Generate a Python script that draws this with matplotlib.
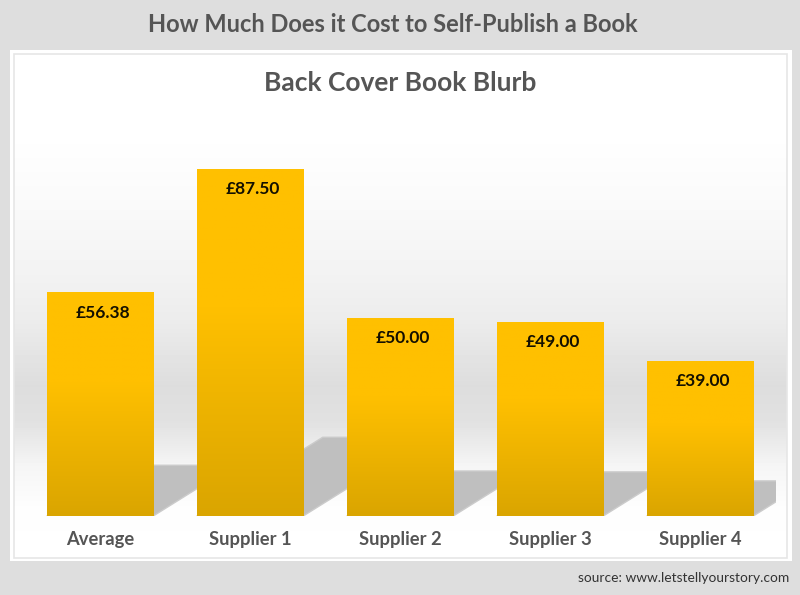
import numpy as np
import matplotlib
matplotlib.use("Agg")
import matplotlib.pyplot as plt
from matplotlib.patches import Rectangle, Polygon
from matplotlib.colors import LinearSegmentedColormap

categories = ["Average", "Supplier 1", "Supplier 2", "Supplier 3", "Supplier 4"]
values = [56.38, 87.50, 50.00, 49.00, 39.00]
value_labels = ["£56.38", "£87.50", "£50.00", "£49.00", "£39.00"]
main_title = "How Much Does it Cost to Self-Publish a Book"
sub_title = "Back Cover Book Blurb"
source = "source: www.letstellyourstory.com"

W, H = 800, 595
BG, TXT = "#dedede", "#555555"
plt.rcParams["font.family"] = ["Lato", "DejaVu Sans"]
fig = plt.figure(figsize=(W / 100, H / 100), dpi=100, facecolor=BG)

# page furniture in pixel coordinates
bg = fig.add_axes([0, 0, 1, 1], zorder=0)
bg.set_xlim(0, W); bg.set_ylim(H, 0); bg.axis("off")
bg.add_patch(Rectangle((10, 50), 782, 511, fc="white", ec="none"))
stops_y = np.array([54, 130, 200, 260, 320, 385, 420, 450, 465, 505, 556])
stops_v = np.array([255, 255, 250, 244, 236, 221, 225, 238, 245, 253, 255]) / 255
ys = np.arange(54, 557)
grad = np.interp(ys, stops_y, stops_v)[:, None]
bg.imshow(grad, extent=(14, 787, 557, 54), cmap="gray", vmin=0, vmax=1, aspect="auto", zorder=1)
bg.set_xlim(0, W); bg.set_ylim(H, 0)
bg.add_patch(Rectangle((13.5, 53.5), 773, 504, fc="none", ec="#e6e6e6", lw=1.2, zorder=2))

# plot axes: x categories every 150 px, y 3.966 px per unit
left, right, top, bottom = 26, 776, 60, 516
ppu = 3.966
ax = fig.add_axes([left / W, 1 - bottom / H, (right - left) / W, (bottom - top) / H], zorder=1)
ax.patch.set_alpha(0)
ax.set_xlim(-0.5, 4.5)
ax.set_ylim(0, (bottom - top) / ppu)
for s in ax.spines.values():
    s.set_visible(False)
ax.set_yticks([])
x = np.arange(len(values)) - 1 / 150
bw = 106.5 / 150
ax.set_xticks(x, categories, fontsize=13.2, fontweight="bold", color=TXT)
ax.tick_params(axis="x", length=0, pad=10.5)

# cast shadows: each bar sheared to the right and flattened
shear = 1.6 * ppu / 150
squash = 0.9 / ppu
for xi, v in zip(x, values):
    l, r = xi - bw / 2, xi + bw / 2
    h = v * squash
    pts = [(l, 0), (r, 0), (r + shear * h, h), (l + shear * h, h)]
    ax.add_patch(Polygon(pts, fc="#bfbfbf", ec="#cbcbcb", lw=1.0, zorder=1))

# bars with a vertical gradient clipped to each bar
cmap = LinearSegmentedColormap.from_list("bar", [(0, "#ffc000"), (0.4, "#ffc000"), (1, "#daa500")])
bars = ax.bar(x, values, width=bw, color="#ffc000", zorder=2)
for b in bars:
    im = ax.imshow(np.linspace(0, 1, 256)[:, None], cmap=cmap, vmin=0, vmax=1, aspect="auto",
                   extent=(b.get_x(), b.get_x() + b.get_width(), 0, b.get_height()),
                   origin="upper", zorder=3)
    im.set_clip_path(b)
ax.set_xlim(-0.5, 4.5)
ax.set_ylim(0, (bottom - top) / ppu)

for xi, v, lab in zip(x, values, value_labels):
    ax.annotate(lab, (xi, v), xytext=(1.8, -14.5), textcoords="offset points", ha="center", va="center",
                fontsize=12.5, fontweight="bold", color="#141000", zorder=5)

fig.text(393 / W, 1 - 24 / H, main_title, ha="center", va="center", fontsize=17, fontweight="bold", color=TXT)
fig.text(400.5 / W, 1 - 83 / H, sub_title, ha="center", va="center", fontsize=19, fontweight="bold", color=TXT)
fig.text(789 / W, 1 - 578 / H, source, ha="right", va="center", fontsize=9.9, color="#333333")

fig.savefig("out.png", dpi=100, facecolor=BG)
